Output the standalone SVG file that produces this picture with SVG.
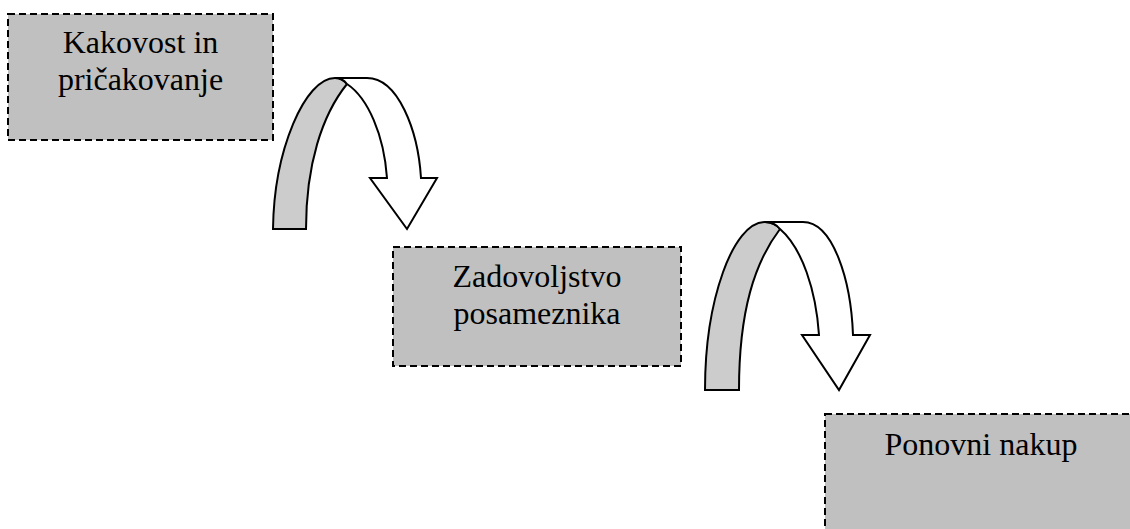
<svg xmlns="http://www.w3.org/2000/svg" width="1130" height="529" viewBox="0 0 1130 529">
<style>
.box{fill:#c0c0c0;stroke:#000;stroke-width:2;stroke-dasharray:7,4}
.band{fill:#cccccc;stroke:#000;stroke-width:2;stroke-linejoin:miter}
.head{fill:#fff;stroke:#000;stroke-width:2;stroke-linejoin:miter}
</style>
<rect width="1130" height="529" fill="#fff"/>
<g id="node1">
<rect class="box" x="8" y="14" width="265" height="126"/>
<text font-family="Liberation Serif, DejaVu Serif, serif" font-size="32" text-anchor="middle" x="140.5" y="53">Kakovost in</text>
<text font-family="Liberation Serif, DejaVu Serif, serif" font-size="32" text-anchor="middle" x="140.5" y="90">pričakovanje</text>
</g>
<g id="node2">
<rect class="box" x="393" y="247" width="288" height="119"/>
<text font-family="Liberation Serif, DejaVu Serif, serif" font-size="32" text-anchor="middle" x="537" y="287">Zadovoljstvo</text>
<text font-family="Liberation Serif, DejaVu Serif, serif" font-size="32" text-anchor="middle" x="537" y="324">posameznika</text>
</g>
<g id="node3">
<rect class="box" x="825" y="414" width="312" height="140"/>
<text font-family="Liberation Serif, DejaVu Serif, serif" font-size="32" text-anchor="middle" x="981" y="455">Ponovni nakup</text>
</g>
<g id="connectors">
<g id="arrow1">
<path class="band" d="M273,229 C274,150 305,78 335,78 C340,78 344,80 347,84 C322,115 306,165 306,229 Z"/>
<path class="head" d="M335,78 L367,78 C398,78 418,130 421,178 L437,178 L407,229 L370,178 L387,178 C384,135 368,98 347,84 C344,80 340,78 335,78 Z"/>
</g>
<g id="arrow2">
<path class="band" d="M705,390 C705,300 733,222 765,222 C771,222 776,224 780,229 C755,262 739,310 739,390 Z"/>
<path class="head" d="M765,222 L803,222 C833,222 851,280 853,335 L870,335 L839,390 L802,335 L819,335 C816,290 802,248 780,229 C776,224 771,222 765,222 Z"/>
</g>
</g>
</svg>
